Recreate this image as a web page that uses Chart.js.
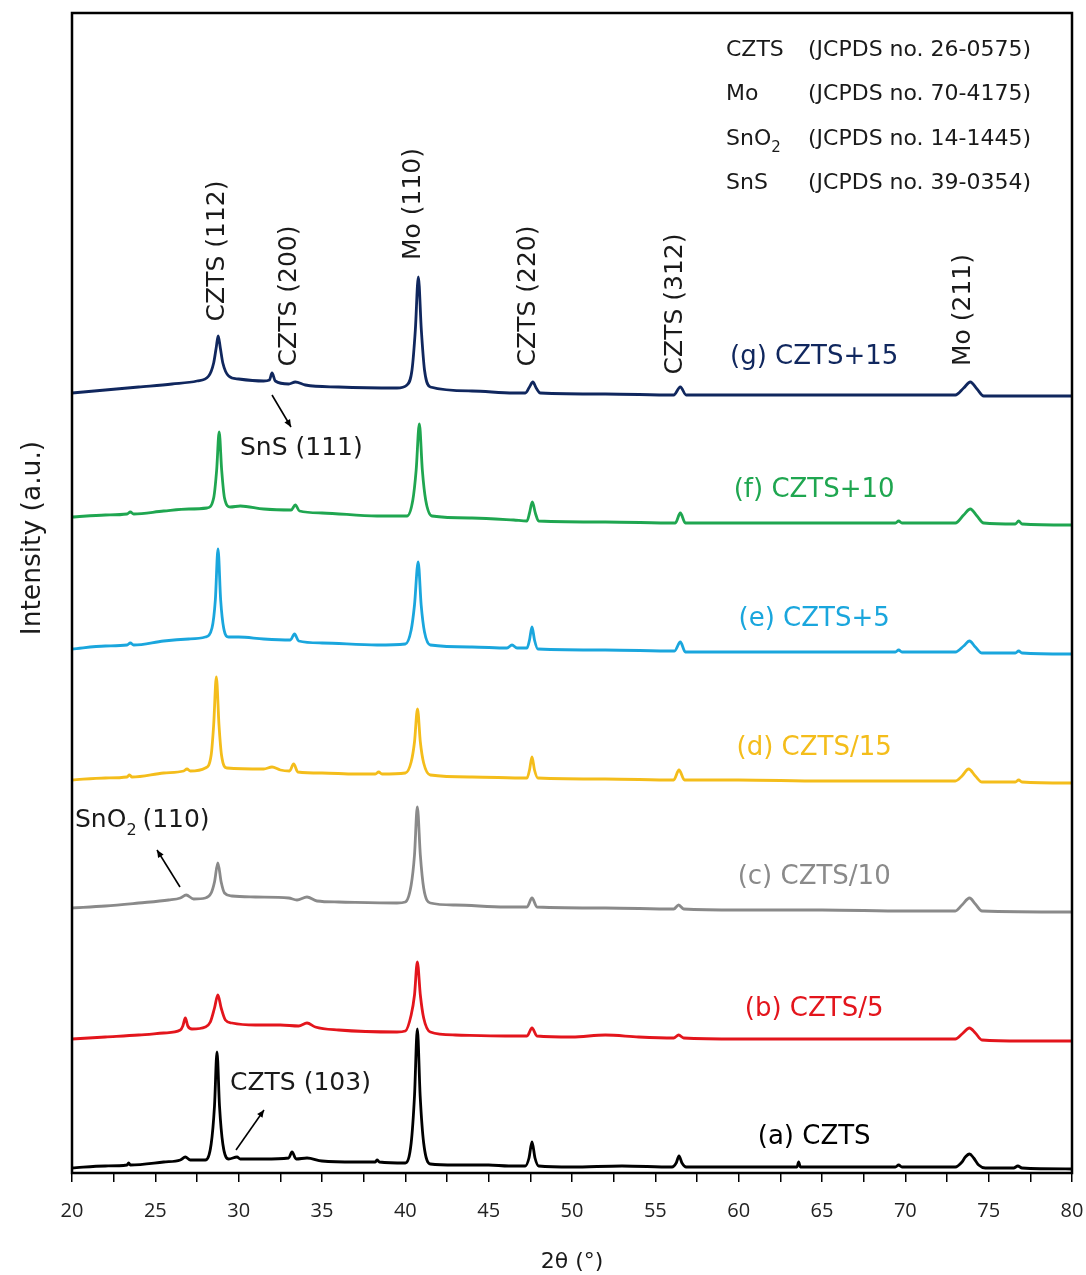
<!DOCTYPE html>
<html>
<head>
<meta charset="utf-8">
<script src="https://cdn.jsdelivr.net/npm/chart.js@4.4.1/dist/chart.umd.min.js"></script>
<style>
html,body{margin:0;padding:0;background:#fff;}
canvas{display:block;}
</style>
</head>
<body>
<canvas id="c" width="1086" height="1275"></canvas>
<script>
// ---- Data (2θ in degrees, intensity in stacked arbitrary units) ----
const xA = [20,22,23.3,23.4,23.5,25.5,26.5,26.8,27.1,28.0,28.35,28.55,28.7,28.85,29.05,29.4,29.9,30.1,31.5,33.0,33.2,33.45,34.1,35,37,38.2,38.3,38.45,40.0,40.35,40.55,40.72,40.89,41.1,41.5,43,45,46.2,47.2,47.42,47.6,47.78,48.0,50,53,56.0,56.25,56.42,56.6,56.85,60,63.5,63.6,63.7,66,69.4,69.6,69.8,73.0,73.4,73.6,73.85,74.1,74.4,74.8,76.5,76.75,77.0,80];
const yA = [5,7,8,10,8,11,13,16,13,13,29,67,121,67,29,14,16,14,14,15,21,14,15,12,11,11,13,11,10,30,77,144,77,30,9,8,8,7,7,15,31,15,7,6,7,6,10,17,10,6,6,6,11,6,6,6,8,6,6,11,16,19,15,8,5,5,7,5,4];

const xB = [20,22,24,25.5,26.5,26.65,26.8,26.95,27.2,28.0,28.3,28.55,28.75,28.95,29.2,29.6,31,32.5,33.6,34.1,34.6,36,39.5,40.0,40.35,40.55,40.72,40.9,41.1,41.5,43,46,47.3,47.6,47.9,50,52,54,56.1,56.4,56.7,60,65,70,73.0,73.4,73.85,74.2,74.6,77,80];
const yB = [134,136,138,140,143,147,155,147,144,146,151,165,178,165,153,150,148,148,147,150,146,143,141,142,158,178,211,178,155,141,138,137,137,145,137,136,138,136,135,138,135,134,134,134,134,139,145,140,133,132,132];

const xC = [20,22,24,25.8,26.5,26.85,27.3,28.0,28.35,28.55,28.75,28.95,29.15,29.6,31,33,33.5,34.1,34.7,36,39.5,40.0,40.35,40.55,40.72,40.9,41.1,41.5,43,46,47.3,47.6,47.9,52,56.1,56.4,56.7,60,65,70,73.0,73.4,73.85,74.2,74.6,80];
const yC = [265,267,270,273,275,278,274,275,280,291,310,291,280,277,276,275,273,276,272,271,270,271,288,318,366,318,285,270,268,266,266,275,266,265,264,268,264,263,263,262,262,268,275,269,262,261];

const xD = [20,22,23.3,23.45,23.6,25.5,26.7,26.9,27.1,28.0,28.35,28.5,28.66,28.82,28.97,29.3,31.5,32.0,32.5,33.05,33.3,33.55,35,37,38.2,38.4,38.6,40.0,40.35,40.55,40.73,40.9,41.1,41.5,44,47.3,47.45,47.6,47.75,47.95,52,56.1,56.42,56.75,60,65,69.6,73.0,73.4,73.8,74.2,74.6,76.6,76.8,77.0,80];
const yD = [393,395,396,398,396,400,402,404,402,405,418,448,496,448,418,405,404,406,403,402,409,401,400,399,399,401,399,400,411,431,464,431,410,398,396,395,403,416,403,395,394,393,403,393,393,392,392,392,397,404,397,391,391,393,391,390];

const xE = [20,22,23.3,23.5,23.7,25.5,27.0,28.0,28.4,28.6,28.76,28.92,29.1,29.4,30,31.5,33.1,33.35,33.6,35,38.3,40.0,40.35,40.55,40.77,40.95,41.15,41.5,44,46.1,46.4,46.7,47.3,47.45,47.6,47.75,47.95,52,56.15,56.5,56.8,60,65,69.4,69.6,69.8,73.0,73.5,73.85,74.2,74.6,76.6,76.8,77.0,80];
const yE = [524,527,528,530,528,532,534,536,545,573,624,573,545,536,536,534,533,539,532,530,528,529,543,568,611,568,541,528,526,525,528,525,525,533,546,533,524,523,522,531,521,521,521,521,523,521,521,527,532,526,520,520,522,520,519];

const xF = [20,22,23.3,23.5,23.7,25.5,27,28.1,28.5,28.68,28.83,28.98,29.15,29.5,30.1,31.5,33.15,33.4,33.65,35,38.3,40.1,40.45,40.65,40.84,41.02,41.22,41.6,44,46.5,47.3,47.45,47.62,47.8,48.0,52,56.2,56.5,56.8,60,65,69.4,69.6,69.8,73.0,73.5,73.9,74.3,74.7,76.6,76.8,77.0,80];
const yF = [656,658,659,661,659,662,664,665,675,703,741,703,675,666,667,664,663,668,662,660,657,657,673,703,749,703,673,657,655,653,652,660,671,660,652,651,650,660,650,650,650,650,652,650,650,658,664,657,650,649,652,649,648];

const xG = [20,22,24,26,27.5,28.2,28.5,28.65,28.77,28.9,29.05,29.4,30.0,31.5,31.85,32.0,32.2,33.0,33.4,34,36,39.5,40.1,40.4,40.6,40.78,40.96,41.15,41.5,44,46.5,47.2,47.45,47.65,47.85,48.1,52,56.1,56.5,56.85,60,65,70,73.0,73.5,73.9,74.3,74.7,77,80];
const yG = [780,783,786,789,792,797,810,825,837,825,810,797,794,792,793,800,792,789,791,788,786,785,788,803,843,896,843,803,786,782,780,780,786,791,785,780,779,778,786,778,778,778,778,778,785,791,784,777,777,777];

const seriesNames = ['(a) CZTS','(b) CZTS/5','(c) CZTS/10','(d) CZTS/15','(e) CZTS+5','(f) CZTS+10','(g) CZTS+15'];
const seriesX = [xA,xB,xC,xD,xE,xF,xG];
const seriesY = [yA,yB,yC,yD,yE,yF,yG];
const xTickStep = 2.5;
const xMin = 20, xMax = 80;
const yMin = 0, yMax = 1160;

// ---- styles ----
const colors = ['#000000','#e3151c','#8a8a8a','#f4bd1b','#1aa6dd','#1fa650','#10275e'];
const TFONT = "'Open Sans', sans-serif";
const LFONT = "'DejaVu Sans', sans-serif";

const datasets = seriesNames.map((name,i)=>({
  label: name,
  data: seriesX[i].map((x,j)=>({x:x, y:seriesY[i][j]})),
  borderColor: colors[i],
  borderWidth: 2.8,
  pointRadius: 0,
  cubicInterpolationMode: 'monotone',
  fill: false
}));

// annotation layout (in data coordinates)
const seriesLabelPos = [[64.53,36],[64.53,164],[64.53,296],[64.53,425],[64.53,554],[64.53,683],[64.53,816]];
const peakLabels = [
  {t:'CZTS (112)', x:28.70, y:922},
  {t:'CZTS (200)', x:33.03, y:877},
  {t:'Mo (110)', x:40.47, y:969},
  {t:'CZTS (220)', x:47.37, y:877},
  {t:'CZTS (312)', x:56.19, y:869},
  {t:'Mo (211)', x:73.48, y:863}
];
const refRows = [
  ['CZTS','(JCPDS no. 26-0575)'],
  ['Mo','(JCPDS no. 70-4175)'],
  ['SnO','(JCPDS no. 14-1445)'],
  ['SnS','(JCPDS no. 39-0354)']
];

function arrow(ctx, x1,y1,x2,y2){
  ctx.beginPath(); ctx.moveTo(x1,y1); ctx.lineTo(x2,y2); ctx.stroke();
  const a = Math.atan2(y2-y1,x2-x1), L=8, w=0.42;
  ctx.beginPath();
  ctx.moveTo(x2,y2);
  ctx.lineTo(x2-L*Math.cos(a-w), y2-L*Math.sin(a-w));
  ctx.lineTo(x2-L*Math.cos(a+w), y2-L*Math.sin(a+w));
  ctx.closePath(); ctx.fill();
}

const decor = {
  id:'decor',
  afterDatasetsDraw(chart){
    const ctx = chart.ctx, ca = chart.chartArea;
    const sx = chart.scales.x, sy = chart.scales.y;
    const X = v=>sx.getPixelForValue(v), Y = v=>sy.getPixelForValue(v);
    ctx.save();
    // frame
    ctx.strokeStyle = '#000'; ctx.lineWidth = 2.5;
    ctx.strokeRect(ca.left, ca.top, ca.right-ca.left, ca.bottom-ca.top);

    // series labels
    ctx.textAlign='center'; ctx.textBaseline='middle';
    ctx.font = `26px ${LFONT}`;
    seriesNames.forEach((n,i)=>{
      ctx.fillStyle = colors[i];
      ctx.fillText(n, X(seriesLabelPos[i][0]), Y(seriesLabelPos[i][1]));
    });

    // peak labels (vertical)
    ctx.fillStyle = '#1a1a1a';
    ctx.font = `25px ${LFONT}`;
    peakLabels.forEach(p=>{
      ctx.save();
      ctx.translate(X(p.x), Y(p.y));
      ctx.rotate(-Math.PI/2);
      ctx.textAlign='center'; ctx.textBaseline='middle';
      ctx.fillText(p.t,0,0);
      ctx.restore();
    });

    // reference list
    ctx.textAlign='left'; ctx.textBaseline='middle';
    ctx.font = `22px ${LFONT}`;
    refRows.forEach((r,i)=>{
      const yy = ca.top + 37 + i*44.5;
      ctx.fillText(r[0], 726, yy);
      if (r[0]==='SnO'){
        const w = ctx.measureText('SnO').width;
        ctx.font = `15px ${LFONT}`;
        ctx.fillText('2', 726+w, yy+9);
        ctx.font = `22px ${LFONT}`;
      }
      ctx.fillText(r[1], 808, yy);
    });

    // callouts
    ctx.font = `25px ${LFONT}`;
    ctx.fillText('SnS (111)', 240, 448);
    ctx.fillText('CZTS (103)', 230, 1083);
    ctx.fillText('SnO', 75, 820);
    const wS = ctx.measureText('SnO').width;
    ctx.font = `16px ${LFONT}`;
    ctx.fillText('2', 75+wS, 831);
    ctx.font = `25px ${LFONT}`;
    ctx.fillText('(110)', 75+wS+16, 820);

    ctx.strokeStyle='#000'; ctx.fillStyle='#000'; ctx.lineWidth=1.6;
    arrow(ctx, 272, 395, 291, 427);
    arrow(ctx, 180, 887, 157, 850);
    arrow(ctx, 236, 1150, 264, 1110);

    // y axis title
    ctx.save();
    ctx.translate(33, 538);
    ctx.rotate(-Math.PI/2);
    ctx.textAlign='center'; ctx.textBaseline='middle';
    ctx.fillStyle='#1a1a1a';
    ctx.font = `26.5px ${LFONT}`;
    ctx.fillText('Intensity (a.u.)',0,0);
    ctx.restore();
    ctx.restore();
  }
};

new Chart(document.getElementById('c'), {
  type:'line',
  data:{datasets},
  options:{
    responsive:false,
    animation:false,
    layout:{padding:{top:13,right:14,left:0,bottom:0}},
    plugins:{legend:{display:false},tooltip:{enabled:false}},
    scales:{
      x:{
        type:'linear', min:xMin, max:xMax,
        border:{display:false},
        grid:{display:true, drawOnChartArea:false, drawTicks:true, tickLength:9, color:'#000', lineWidth:1.5},
        ticks:{stepSize:xTickStep, autoSkip:false, maxRotation:0, padding:17, color:'#222',
          font:{family:TFONT, size:20},
          callback:(v)=> (Math.abs(v%5)<1e-9 ? String(v) : '')},
        title:{display:true, text:'2θ (°)', color:'#1a1a1a', font:{family:LFONT,size:22}, padding:{top:0,bottom:0}},
        afterFit:(s)=>{ s.height = 102; s.paddingLeft = 0; s.paddingRight = 0; }
      },
      y:{
        min:yMin, max:yMax,
        border:{display:false},
        grid:{display:false},
        ticks:{display:false},
        afterFit:(s)=>{ s.width = 72; s.paddingTop = 0; s.paddingBottom = 0; }
      }
    }
  },
  plugins:[decor]
});
</script>
</body>
</html>
